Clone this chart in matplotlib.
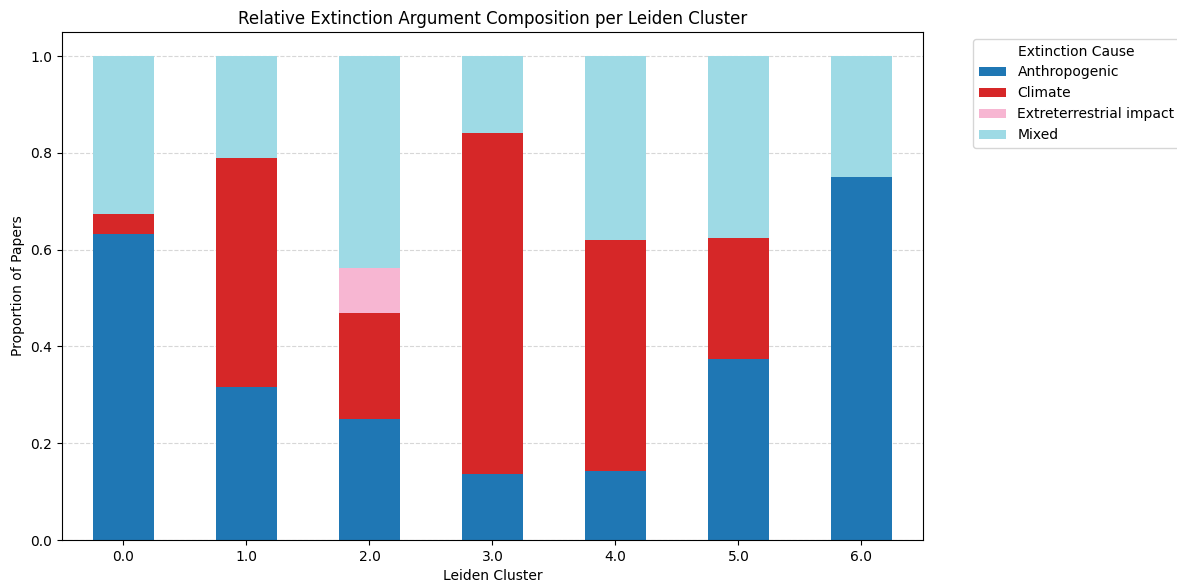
import matplotlib
matplotlib.use("Agg")
import matplotlib.pyplot as plt
import numpy as np

clusters = ["0.0", "1.0", "2.0", "3.0", "4.0", "5.0", "6.0"]
anthropogenic = [31/49, 6/19, 8/32, 6/44, 3/21, 3/8, 0.75]
climate = [2/49, 9/19, 7/32, 31/44, 10/21, 2/8, 0.0]
extraterrestrial = [0.0, 0.0, 3/32, 0.0, 0.0, 0.0, 0.0]
mixed = [16/49, 4/19, 14/32, 7/44, 8/21, 3/8, 0.25]

series = [
    ("Anthropogenic", anthropogenic, "#1f77b4"),
    ("Climate", climate, "#d62728"),
    ("Extreterrestrial impact", extraterrestrial, "#f7b6d2"),
    ("Mixed", mixed, "#9edae5"),
]

fig = plt.figure(figsize=(11.77, 5.82), dpi=100)
ax = fig.add_axes([62/1177, 1 - 540/582, (923-62)/1177, (540-32)/582])

x = np.arange(len(clusters))
bottom = np.zeros(len(clusters))
for name, vals, col in series:
    v = np.array(vals)
    ax.bar(x, v, width=0.5, bottom=bottom, color=col, label=name, zorder=2)
    bottom += v

ax.set_xticks(x)
ax.set_xticklabels(clusters, rotation=0)
ax.set_xlim(-0.5, len(clusters) - 0.5)
ax.set_ylim(0, 1.05)
ax.yaxis.grid(True, linestyle="--", alpha=0.5, zorder=0)
ax.set_axisbelow(True)
ax.set_title("Relative Extinction Argument Composition per Leiden Cluster", fontsize=12)
ax.set_xlabel("Leiden Cluster")
ax.set_ylabel("Proportion of Papers")
ax.legend(title="Extinction Cause", bbox_to_anchor=(1.05, 1), loc="upper left")

fig.savefig("out.png", dpi=100)
